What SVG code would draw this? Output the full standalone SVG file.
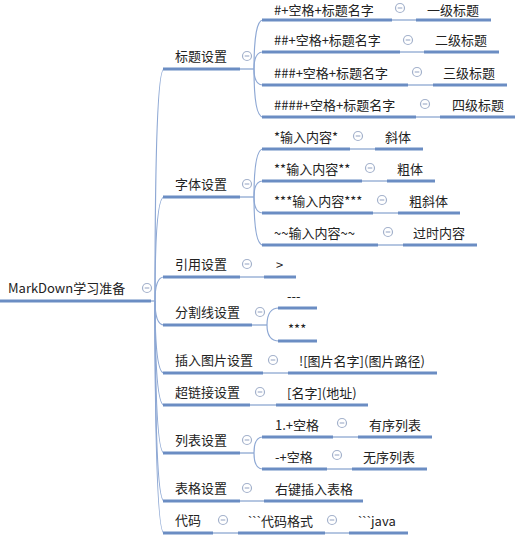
<svg xmlns="http://www.w3.org/2000/svg" width="520" height="542" viewBox="0 0 520 542">
<style>
text{font-family:"Microsoft YaHei","Noto Sans CJK SC","Noto Sans",sans-serif;font-size:13px;fill:#222}
.l{font-family:"Liberation Sans",sans-serif}
.u{stroke:#6b8dc3;stroke-width:3;stroke-linecap:butt;fill:none}
.c{stroke:#8ea8d4;stroke-width:1.2;fill:none}
.t{stroke:#6b8dc3;stroke-width:1;fill:none}
.m circle{fill:#fff;stroke:#a3b1cb;stroke-width:1.2}
.m line{stroke:#a3b1cb;stroke-width:1.2}
</style>
<defs>
<g id="minus" class="m"><circle r="4.5"/><line x1="-2.3" y1="0" x2="2.3" y2="0"/></g>
</defs>
<rect width="520" height="542" fill="#fff"/>

<g id="connectors">
<line class="t" x1="151" y1="301" x2="155" y2="301"/>
<path class="c" d="M155,301 Q155,69 164,69"/>
<path class="c" d="M155,301 Q155,197 164,197"/>
<path class="c" d="M155,301 Q155,277 164,277"/>
<path class="c" d="M155,301 Q155,325 164,325"/>
<path class="c" d="M155,301 Q155,373 164,373"/>
<path class="c" d="M155,301 Q155,405 164,405"/>
<path class="c" d="M155,301 Q155,453 164,453"/>
<path class="c" d="M155,301 Q155,501 164,501"/>
<path class="c" d="M155,301 Q155,533 164,533"/>
<line class="t" x1="240" y1="69" x2="254" y2="69"/>
<path class="c" d="M254,69 Q254,20 263,20"/>
<path class="c" d="M254,69 Q254,52 263,52"/>
<path class="c" d="M254,69 Q254,85 263,85"/>
<path class="c" d="M254,69 Q254,117 263,117"/>
<line class="t" x1="392" y1="20" x2="416" y2="20"/>
<line class="t" x1="400" y1="52" x2="424" y2="52"/>
<line class="t" x1="408" y1="85" x2="433" y2="85"/>
<line class="t" x1="416" y1="117" x2="440" y2="117"/>
<line class="t" x1="240" y1="197" x2="254" y2="197"/>
<path class="c" d="M254,197 Q254,149 263,149"/>
<path class="c" d="M254,197 Q254,181 263,181"/>
<path class="c" d="M254,197 Q254,213 263,213"/>
<path class="c" d="M254,197 Q254,245 263,245"/>
<line class="t" x1="350" y1="149" x2="375" y2="149"/>
<line class="t" x1="362" y1="181" x2="387" y2="181"/>
<line class="t" x1="373" y1="213" x2="398" y2="213"/>
<line class="t" x1="378" y1="245" x2="403" y2="245"/>
<line class="t" x1="240" y1="277" x2="264" y2="277"/>
<line class="t" x1="252" y1="325" x2="267" y2="325"/>
<path class="c" d="M267,325 Q267,308 279,308"/>
<path class="c" d="M267,325 Q267,341 279,341"/>
<line class="t" x1="263" y1="373" x2="288" y2="373"/>
<line class="t" x1="250" y1="405" x2="276" y2="405"/>
<line class="t" x1="240" y1="453" x2="254" y2="453"/>
<path class="c" d="M254,453 Q254,437 263,437"/>
<path class="c" d="M254,453 Q254,469 263,469"/>
<line class="t" x1="333" y1="437" x2="358" y2="437"/>
<line class="t" x1="327" y1="469" x2="352" y2="469"/>
<line class="t" x1="240" y1="501" x2="264" y2="501"/>
<line class="t" x1="213" y1="533" x2="238" y2="533"/>
<line class="t" x1="325" y1="533" x2="349" y2="533"/>
</g>

<g id="root"><line class="u" x1="0" y1="301" x2="151" y2="301"/><text x="8" y="293">MarkDown学习准备</text><use href="#minus" x="147" y="288"/></g>

<g id="n-title"><line class="u" x1="163" y1="69" x2="240" y2="69"/><text x="175" y="61">标题设置</text><use href="#minus" x="247" y="56"/></g>
<g id="n-h1"><line class="u" x1="262" y1="20" x2="392" y2="20"/><text x="274" y="14.5">#+空格+标题名字</text><use href="#minus" x="400" y="8"/></g>
<g id="n-h1b"><line class="u" x1="416" y1="20" x2="491" y2="20"/><text x="427" y="14.5">一级标题</text></g>
<g id="n-h2"><line class="u" x1="262" y1="52" x2="400" y2="52"/><text x="274" y="45">##+空格+标题名字</text><use href="#minus" x="408" y="40"/></g>
<g id="n-h2b"><line class="u" x1="424" y1="52" x2="499" y2="52"/><text x="435" y="45">二级标题</text></g>
<g id="n-h3"><line class="u" x1="262" y1="85" x2="408" y2="85"/><text x="274" y="78">###+空格+标题名字</text><use href="#minus" x="417" y="72"/></g>
<g id="n-h3b"><line class="u" x1="433" y1="85" x2="507" y2="85"/><text x="443" y="78">三级标题</text></g>
<g id="n-h4"><line class="u" x1="262" y1="117" x2="416" y2="117"/><text x="274" y="110">####+空格+标题名字</text><use href="#minus" x="425" y="104"/></g>
<g id="n-h4b"><line class="u" x1="440" y1="117" x2="515" y2="117"/><text x="452" y="110">四级标题</text></g>

<g id="n-font"><line class="u" x1="163" y1="197" x2="240" y2="197"/><text x="175" y="189">字体设置</text><use href="#minus" x="247" y="184"/></g>
<g id="n-f1"><line class="u" x1="262" y1="149" x2="350" y2="149"/><text x="274" y="142">*输入内容*</text><use href="#minus" x="358" y="136"/></g>
<g id="n-f1b"><line class="u" x1="375" y1="149" x2="423" y2="149"/><text x="385" y="142">斜体</text></g>
<g id="n-f2"><line class="u" x1="262" y1="181" x2="362" y2="181"/><text x="274" y="174">**输入内容**</text><use href="#minus" x="370" y="168"/></g>
<g id="n-f2b"><line class="u" x1="387" y1="181" x2="435" y2="181"/><text x="397" y="174">粗体</text></g>
<g id="n-f3"><line class="u" x1="262" y1="213" x2="373" y2="213"/><text x="274" y="206">***输入内容***</text><use href="#minus" x="382" y="200"/></g>
<g id="n-f3b"><line class="u" x1="398" y1="213" x2="460" y2="213"/><text x="409" y="206">粗斜体</text></g>
<g id="n-f4"><line class="u" x1="262" y1="245" x2="378" y2="245"/><text x="274" y="238">~~输入内容~~</text><use href="#minus" x="388" y="232"/></g>
<g id="n-f4b"><line class="u" x1="403" y1="245" x2="477" y2="245"/><text x="413" y="238">过时内容</text></g>

<g id="n-quote"><line class="u" x1="163" y1="277" x2="240" y2="277"/><text x="175" y="269">引用设置</text><use href="#minus" x="247" y="264"/></g>
<g id="n-q1"><line class="u" x1="264" y1="277" x2="296" y2="277"/><text x="276" y="270">&gt;</text></g>

<g id="n-hr"><line class="u" x1="163" y1="325" x2="252" y2="325"/><text x="175" y="317">分割线设置</text><use href="#minus" x="260" y="312"/></g>
<g id="n-hr1"><line class="u" x1="278" y1="308" x2="317" y2="308"/><text x="287" y="301">---</text></g>
<g id="n-hr2"><line class="u" x1="278" y1="341" x2="317" y2="341"/><text x="288" y="334">***</text></g>

<g id="n-img"><line class="u" x1="163" y1="373" x2="263" y2="373"/><text x="175" y="365">插入图片设置</text><use href="#minus" x="273" y="360"/></g>
<g id="n-img1"><line class="u" x1="288" y1="373" x2="437" y2="373"/><text x="299" y="366">![图片名字](图片路径)</text></g>

<g id="n-link"><line class="u" x1="163" y1="405" x2="250" y2="405"/><text x="175" y="397">超链接设置</text><use href="#minus" x="260" y="392"/></g>
<g id="n-link1"><line class="u" x1="276" y1="405" x2="368" y2="405"/><text x="287" y="398">[名字](地址)</text></g>

<g id="n-list"><line class="u" x1="163" y1="453" x2="240" y2="453"/><text x="175" y="445">列表设置</text><use href="#minus" x="247" y="440"/></g>
<g id="n-l1"><line class="u" x1="262" y1="437" x2="333" y2="437"/><text x="275" y="430">1.+空格</text><use href="#minus" x="342" y="423"/></g>
<g id="n-l1b"><line class="u" x1="358" y1="437" x2="432" y2="437"/><text x="369" y="430">有序列表</text></g>
<g id="n-l2"><line class="u" x1="262" y1="469" x2="327" y2="469"/><text x="275" y="462">-+空格</text><use href="#minus" x="337" y="455"/></g>
<g id="n-l2b"><line class="u" x1="352" y1="469" x2="427" y2="469"/><text x="363" y="462">无序列表</text></g>

<g id="n-table"><line class="u" x1="163" y1="501" x2="240" y2="501"/><text x="175" y="493">表格设置</text><use href="#minus" x="247" y="488"/></g>
<g id="n-t1"><line class="u" x1="264" y1="501" x2="363" y2="501"/><text x="275" y="494">右键插入表格</text></g>

<g id="n-code"><line class="u" x1="163" y1="533" x2="213" y2="533"/><text x="175" y="525">代码</text><use href="#minus" x="223" y="520"/></g>
<g id="n-c1"><line class="u" x1="238" y1="533" x2="325" y2="533"/><text x="248" y="526"><tspan class="l">```</tspan>代码格式</text><use href="#minus" x="332" y="520"/></g>
<g id="n-c2"><line class="u" x1="349" y1="533" x2="408" y2="533"/><text x="358" y="526"><tspan class="l">```</tspan>java</text></g>
</svg>
